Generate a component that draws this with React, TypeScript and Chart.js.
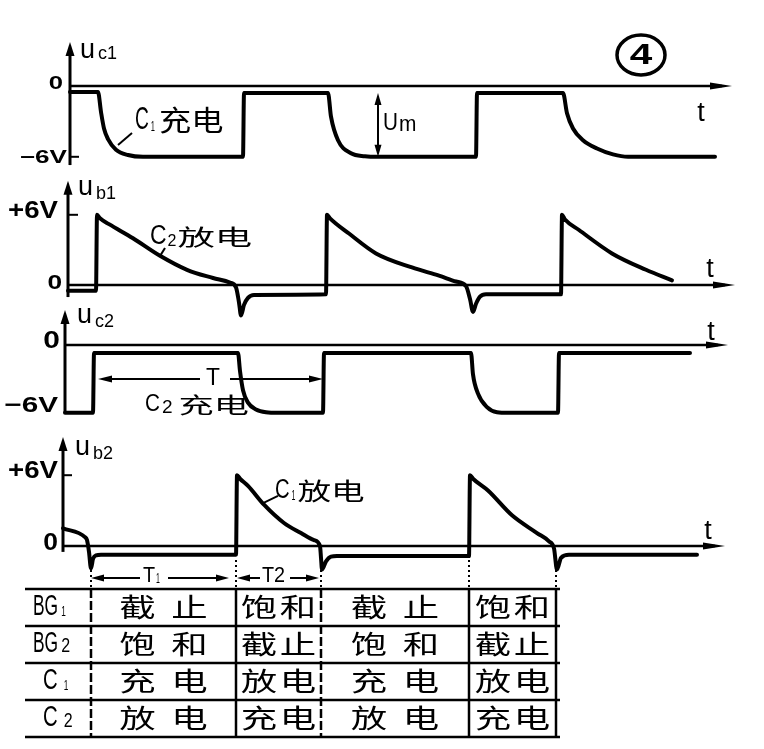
import React, { useEffect, useRef } from 'react';
import { Chart, registerables } from 'chart.js';

Chart.register(...registerables);

const W = 764;
const H = 749;

// switching instants (arbitrary time units) and time-axis extent
const EDGES = [0, 145, 230, 378, 465];
const T_START = -28;
const AXIS_END = [634, 639, 635, 634];

// u_c1 : collector of BG1 (C1 charging)
const UC1_T = [-28, 0, 3, 6, 10, 18, 30, 45, 145, 146, 230, 233, 240, 253, 267, 280, 378, 379, 465, 469, 475, 485, 499, 515, 530, 617];
const UC1_V = [-0.5, -0.5, -2.2, -3.6, -4.5, -5.4, -5.85, -6, -6, -0.6, -0.6, -2.6, -4.6, -5.7, -5.95, -6, -6, -0.6, -0.6, -2.3, -3.6, -4.6, -5.3, -5.8, -6, -6];

// u_b1 : base of BG1 (C2 discharging)
const UB1_T = [-28, 0, 1, 4, 13, 37, 64, 91, 117, 134, 140, 143, 145, 148, 152, 158, 230, 231, 234, 253, 280, 316, 343, 360, 370, 374, 377, 380, 384, 390, 465, 466, 469, 483, 516, 550, 576];
const UB1_V = [-0.5, -0.5, 6, 5.7, 5.2, 4.0, 2.5, 1.3, 0.6, 0.2, -0.2, -1.5, -2.6, -1.7, -1.1, -0.85, -0.8, 6, 5.7, 4.4, 2.7, 1.5, 0.8, 0.3, -0.1, -1.2, -2.3, -1.6, -1.0, -0.8, -0.8, 6, 5.6, 4.7, 2.7, 1.3, 0.4];

// u_c2 : collector of BG2 (C2 charging)
const UC2_T = [-28, 0, 1, 145, 147, 150, 155, 163, 173, 185, 230, 231, 378, 380, 385, 394, 404, 415, 465, 466, 597];
const UC2_V = [-6, -6, -0.7, -0.7, -2.3, -4.0, -5.1, -5.7, -5.95, -6, -6, -0.7, -0.7, -2.6, -4.3, -5.5, -5.95, -6, -6, -0.7, -0.7];

// u_b2 : base of BG2 (C1 discharging)
const UB2_T = [-28, -6, -4, -2, 0, 2, 5, 10, 145, 146, 149, 157, 173, 193, 210, 223, 229, 230, 231, 235, 240, 246, 378, 379, 382, 397, 421, 446, 458, 463, 466, 470, 478, 606];
const UB2_V = [1.5, 0.75, 0.5, -0.5, -1.9, -1.1, -0.8, -0.75, -0.75, 6, 5.7, 5.1, 3.5, 1.95, 1.1, 0.5, 0, -1.0, -2.0, -1.3, -0.9, -0.85, -0.85, 6, 5.7, 4.7, 2.6, 1.1, 0.4, -0.2, -2.0, -1.0, -0.75, -0.75];

// state table
const ROW_MAIN = ['BG', 'BG', 'C', 'C'];
const ROW_SUB = ['1', '2', '1', '2'];
const BG1_STATE = ['截止', '饱和', '截止', '饱和'];
const BG2_STATE = ['饱和', '截止', '饱和', '截止'];
const C1_STATE = ['充电', '放电', '充电', '放电'];
const C2_STATE = ['放电', '充电', '放电', '充电'];

// layout of the four panels (pixel of t=0, pixel of 0 V, px per volt)
const PANELS = [
  { xO: 98, z: 86, k: 11.8 },
  { xO: 96, z: 285, k: 11.7 },
  { xO: 93, z: 345, k: 11.3 },
  { xO: 91, z: 546, k: 11.8 },
];

const LAT = '"Liberation Sans", "DejaVu Sans", sans-serif';
const CJK = '"Noto Sans CJK SC", "Noto Sans CJK JP", sans-serif';

type Pt = [number, number];
type Piece = { s: string; size: number; f?: string; sx?: number; dy?: number; gap?: number; w?: string };

function pt(chart: any, i: number, t: number, v: number): Pt {
  return [chart.scales['x' + i].getPixelForValue(t), chart.scales['y' + i].getPixelForValue(v)];
}

function seg(ctx: CanvasRenderingContext2D, a: Pt, b: Pt, w = 2, dash: number[] = []) {
  ctx.save();
  ctx.lineWidth = w;
  ctx.setLineDash(dash);
  ctx.beginPath();
  ctx.moveTo(a[0], a[1]);
  ctx.lineTo(b[0], b[1]);
  ctx.stroke();
  ctx.restore();
}

function head(ctx: CanvasRenderingContext2D, tip: Pt, dir: string, len: number, half: number) {
  const [x, y] = tip;
  ctx.beginPath();
  ctx.moveTo(x, y);
  if (dir === 'up') { ctx.lineTo(x - half, y + len); ctx.lineTo(x + half, y + len); }
  if (dir === 'down') { ctx.lineTo(x - half, y - len); ctx.lineTo(x + half, y - len); }
  if (dir === 'left') { ctx.lineTo(x + len, y - half); ctx.lineTo(x + len, y + half); }
  if (dir === 'right') { ctx.lineTo(x - len, y - half); ctx.lineTo(x - len, y + half); }
  ctx.closePath();
  ctx.fill();
}

function label(ctx: CanvasRenderingContext2D, s: string, x: number, y: number, size: number, align: CanvasTextAlign = 'left', sx = 1, f = LAT, w = 'normal') {
  ctx.save();
  ctx.font = `${w} ${size}px ${f}`;
  ctx.textBaseline = 'middle';
  ctx.textAlign = align;
  ctx.translate(x, y);
  ctx.scale(sx, 1);
  ctx.fillText(s, 0, 0);
  ctx.restore();
}

function run(ctx: CanvasRenderingContext2D, x: number, y: number, pieces: Piece[]) {
  let cx = x;
  for (const p of pieces) {
    ctx.save();
    ctx.font = `${p.w || 'normal'} ${p.size}px ${p.f || LAT}`;
    ctx.textBaseline = 'middle';
    ctx.textAlign = 'left';
    const sx = p.sx ?? 1;
    const g = p.gap || 0;
    ctx.translate(cx + g, y + (p.dy || 0));
    ctx.scale(sx, 1);
    ctx.fillText(p.s, 0, 0);
    const wd = ctx.measureText(p.s).width * sx;
    ctx.restore();
    cx += g + wd;
  }
  return cx;
}

function series(ts: number[], vs: number[]) {
  return ts.map((t, i) => ({ x: t, y: vs[i] }));
}

const decor = {
  id: 'decor',
  afterDatasetsDraw(chart: any) {
    const ctx: CanvasRenderingContext2D = chart.ctx;
    ctx.save();
    ctx.fillStyle = '#000';
    ctx.strokeStyle = '#000';

    // axes of each panel
    const axisSpan = [[-6.7, 3.73], [-1.03, 8.9], [-6, 3.1], [-0.5, 9.24]];
    for (let i = 1; i <= 4; i++) {
      const [b, t] = axisSpan[i - 1];
      const bot = pt(chart, i, T_START, b);
      const top = pt(chart, i, T_START, t);
      seg(ctx, bot, [top[0], top[1] + 8], 3);
      head(ctx, top, 'up', 14, 4.5);
      const z0 = pt(chart, i, T_START, 0);
      const z1 = pt(chart, i, AXIS_END[i - 1], 0);
      seg(ctx, z0, [z1[0] - 10, z1[1]], 2.5);
      head(ctx, z1, 'right', 22, 3.5);
    }

    // tick labels and tick marks
    const ax = (i: number) => pt(chart, i, T_START, 0)[0];
    const B = 'bold';
    // panel 1
    label(ctx, '0', ax(1) - 7, pt(chart, 1, 0, 0)[1] - 2, 19, 'right', 1.35, LAT, B);
    label(ctx, '−6V', ax(1) - 3, pt(chart, 1, 0, -6)[1] + 1, 18, 'right', 1.45, LAT, B);
    seg(ctx, [ax(1), pt(chart, 1, 0, -6)[1]], [ax(1) + 9, pt(chart, 1, 0, -6)[1]], 2);
    // panel 2
    label(ctx, '+6V', ax(2) - 10, pt(chart, 2, 0, 6)[1] - 3, 24, 'right', 1.15, LAT, B);
    label(ctx, '0', ax(2) - 6, pt(chart, 2, 0, 0)[1] - 2, 21, 'right', 1.25, LAT, B);
    seg(ctx, [ax(2), pt(chart, 2, 0, 6)[1]], [ax(2) + 10, pt(chart, 2, 0, 6)[1]], 2);
    // panel 3
    label(ctx, '0', ax(3) - 5, pt(chart, 3, 0, 0)[1] - 3, 23, 'right', 1.3, LAT, B);
    label(ctx, '−6V', ax(3) - 7, pt(chart, 3, 0, -6)[1] - 7, 22, 'right', 1.35, LAT, B);
    // panel 4
    label(ctx, '+6V', ax(4) - 5, pt(chart, 4, 0, 6)[1] - 4, 23, 'right', 1.2, LAT, B);
    label(ctx, '0', ax(4) - 5, pt(chart, 4, 0, 0)[1] - 2, 23, 'right', 1.15, LAT, B);
    seg(ctx, [ax(4), pt(chart, 4, 0, 6)[1]], [ax(4) + 9, pt(chart, 4, 0, 6)[1]], 2);

    // axis names
    const names: [number, number, number, string, number][] = [
      [1, -18, 3.01, 'c1', 4],
      [2, -18, 8.29, 'b1', 6],
      [3, -16, 2.61, 'c2', 7],
      [4, -16, 8.31, 'b2', 6],
    ];
    names.forEach(([i, t, v, sub, dy]) => {
      const p = pt(chart, i, t, v);
      run(ctx, p[0], p[1], [
        { s: 'u', size: 27 },
        { s: sub, size: 18, dy, gap: 3 },
      ]);
    });

    // "t" labels
    const tl: [number, number, number][] = [[1, 603, -2.37], [2, 614, 1.28], [3, 618, 1.06], [4, 617, 1.19]];
    tl.forEach(([i, t, v]) => {
      const p = pt(chart, i, t, v);
      label(ctx, 't', p[0], p[1], 27, 'center', 1.0);
    });

    // panel 1 annotations
    {
      const p = pt(chart, 1, 37, -2.92);
      run(ctx, p[0], p[1], [
        { s: 'C', size: 32, sx: 0.6 },
        { s: '1', size: 15, sx: 0.5, dy: 6, gap: 2 },
        { s: '充电', size: 28, f: CJK, sx: 1.15, gap: 4 },
      ]);
      seg(ctx, pt(chart, 1, 20, -5.0), pt(chart, 1, 34, -3.98), 2);
      const a = pt(chart, 1, 280, -0.6);
      const b = pt(chart, 1, 280, -6);
      seg(ctx, [a[0], a[1] + 6], [b[0], b[1] - 6], 2);
      head(ctx, a, 'up', 12, 3.5);
      head(ctx, b, 'down', 12, 3.5);
      const u = pt(chart, 1, 285, -3.18);
      run(ctx, u[0], u[1], [
        { s: 'U', size: 23, sx: 0.9 },
        { s: 'm', size: 22, sx: 0.95, dy: 1, gap: 1 },
      ]);
      const c = pt(chart, 1, 543, 2.63);
      ctx.save();
      ctx.lineWidth = 3.5;
      ctx.beginPath();
      ctx.ellipse(c[0], c[1], 24, 20, 0, 0, Math.PI * 2);
      ctx.stroke();
      ctx.restore();
      label(ctx, '4', c[0], c[1] + 1, 30, 'center', 1.35, LAT, 'bold');
    }

    // panel 2 annotation
    {
      const p = pt(chart, 2, 54, 4.1);
      run(ctx, p[0], p[1], [
        { s: 'C', size: 27, sx: 0.85 },
        { s: '2', size: 16, dy: 5, gap: 1 },
        { s: '放电', size: 22, f: CJK, sx: 1.7, gap: 1 },
      ]);
      seg(ctx, pt(chart, 2, 64, 2.48), pt(chart, 2, 69, 3.16), 2);
    }

    // panel 3 annotations
    {
      const y = pt(chart, 3, 0, -3.0)[1];
      const l0 = pt(chart, 3, 5, -3.0);
      const l1 = pt(chart, 3, 107, -3.0);
      const r0 = pt(chart, 3, 137, -3.0);
      const r1 = pt(chart, 3, 230, -3.0);
      seg(ctx, [l0[0] + 8, y], l1, 2);
      head(ctx, l0, 'left', 14, 3.5);
      seg(ctx, r0, [r1[0] - 8, y], 2);
      head(ctx, r1, 'right', 14, 3.5);
      const tp = pt(chart, 3, 120, -2.92);
      label(ctx, 'T', tp[0], tp[1], 24, 'center', 0.95);
      const p = pt(chart, 3, 52, -5.31);
      run(ctx, p[0], p[1], [
        { s: 'C', size: 23, sx: 0.9 },
        { s: '2', size: 19, dy: 3, gap: 2 },
        { s: '充电', size: 22, f: CJK, sx: 1.6, gap: 6 },
      ]);
    }

    // panel 4 annotations
    {
      const p = pt(chart, 4, 184, 4.66);
      run(ctx, p[0], p[1], [
        { s: 'C', size: 27, sx: 0.75 },
        { s: '1', size: 14, sx: 0.5, dy: 5, gap: 2 },
        { s: '放电', size: 24, f: CJK, sx: 1.4, gap: 2 },
      ]);
      seg(ctx, pt(chart, 4, 172, 3.64), pt(chart, 4, 187, 4.24), 2);

      const ty = 578;
      const X = (t: number) => pt(chart, 4, t, 0)[0];
      // T1
      seg(ctx, [X(0) + 8, ty], [X(49), ty], 2);
      head(ctx, [X(0), ty], 'left', 13, 3.5);
      seg(ctx, [X(77), ty], [X(138) - 8, ty], 2);
      head(ctx, [X(138), ty], 'right', 13, 3.5);
      run(ctx, X(52), ty - 2, [
        { s: 'T', size: 22, sx: 0.9 },
        { s: '1', size: 14, sx: 0.5, dy: 3, gap: 1 },
      ]);
      // T2
      seg(ctx, [X(146) + 8, ty], [X(169), ty], 2);
      head(ctx, [X(146), ty], 'left', 13, 3.5);
      seg(ctx, [X(199), ty], [X(228) - 8, ty], 2);
      head(ctx, [X(228), ty], 'right', 13, 3.5);
      run(ctx, X(171), ty - 2, [
        { s: 'T', size: 22, sx: 0.9 },
        { s: '2', size: 22, sx: 0.9, dy: 0, gap: 0 },
      ]);
    }

    // dotted drop lines and state table
    {
      const X = (t: number) => pt(chart, 4, t, 0)[0];
      const rowY = [589, 626, 663, 700, 737];
      const left = 25;
      const right = X(EDGES[EDGES.length - 1]) + 4;
      EDGES.forEach((e, j) => {
        seg(ctx, [X(e), 560], [X(e), rowY[0]], 2, [2, 3]);
        seg(ctx, [X(e), rowY[0]], [X(e), rowY[rowY.length - 1]], 2.5, j === 0 || j === 2 ? [9, 3] : []);
      });
      rowY.forEach((y) => seg(ctx, [left, y], [right, y], 2.5));

      const states = [BG1_STATE, BG2_STATE, C1_STATE, C2_STATE];
      const subSize = [15, 20, 15, 20];
      const subSx = [0.55, 0.8, 0.55, 0.8];
      const subDy = [5, 3, 5, 4];
      ROW_MAIN.forEach((m, r) => {
        const cy = (rowY[r] + rowY[r + 1]) / 2 - 1;
        run(ctx, m === 'BG' ? 33 : 43, cy, [
          { s: m, size: 29, sx: m === 'BG' ? 0.6 : 0.7 },
          { s: ROW_SUB[r], size: subSize[r], sx: subSx[r], dy: subDy[r], gap: m === 'BG' ? 3 : 6 },
        ]);
        states[r].forEach((s, c) => {
          const cx = (X(EDGES[c]) + X(EDGES[c + 1])) / 2;
          const spacing = c % 2 === 0 ? 52 : 39;
          Array.from(s).forEach((ch, j) => {
            label(ctx, ch, cx + (j - 0.5) * spacing, cy + 1, 26, 'center', 1.4, CJK);
          });
        });
      });
    }

    ctx.restore();
  },
};

export default function App() {
  const ref = useRef<HTMLCanvasElement>(null);
  useEffect(() => {
    const scales: any = {};
    PANELS.forEach((p, i) => {
      scales['x' + (i + 1)] = { type: 'linear', axis: 'x', display: false, bounds: 'data', min: -p.xO, max: W - p.xO };
      scales['y' + (i + 1)] = { type: 'linear', axis: 'y', display: false, bounds: 'data', min: -(H - p.z) / p.k, max: p.z / p.k };
    });
    const all = [
      [UC1_T, UC1_V],
      [UB1_T, UB1_V],
      [UC2_T, UC2_V],
      [UB2_T, UB2_V],
    ];
    const chart = new Chart(ref.current!, {
      type: 'line',
      data: {
        datasets: all.map(([ts, vs], i) => ({
          label: ['uc1', 'ub1', 'uc2', 'ub2'][i],
          data: series(ts, vs),
          xAxisID: 'x' + (i + 1),
          yAxisID: 'y' + (i + 1),
          borderColor: '#000',
          borderWidth: 4,
          pointRadius: 0,
          cubicInterpolationMode: 'monotone',
          fill: false,
          borderJoinStyle: 'round',
          borderCapStyle: 'round',
        })) as any,
      },
      options: {
        animation: false,
        responsive: false,
        maintainAspectRatio: false,
        devicePixelRatio: 1,
        layout: { padding: 0 },
        plugins: { legend: { display: false }, tooltip: { enabled: false } },
        events: [],
        scales,
      },
      plugins: [decor],
    });
    return () => chart.destroy();
  }, []);
  return (
    <div style={{ position: 'absolute', left: 0, top: 0, width: W, height: H, background: '#fff' }}>
      <canvas ref={ref} width={W} height={H} style={{ display: 'block', width: W, height: H }} />
    </div>
  );
}
